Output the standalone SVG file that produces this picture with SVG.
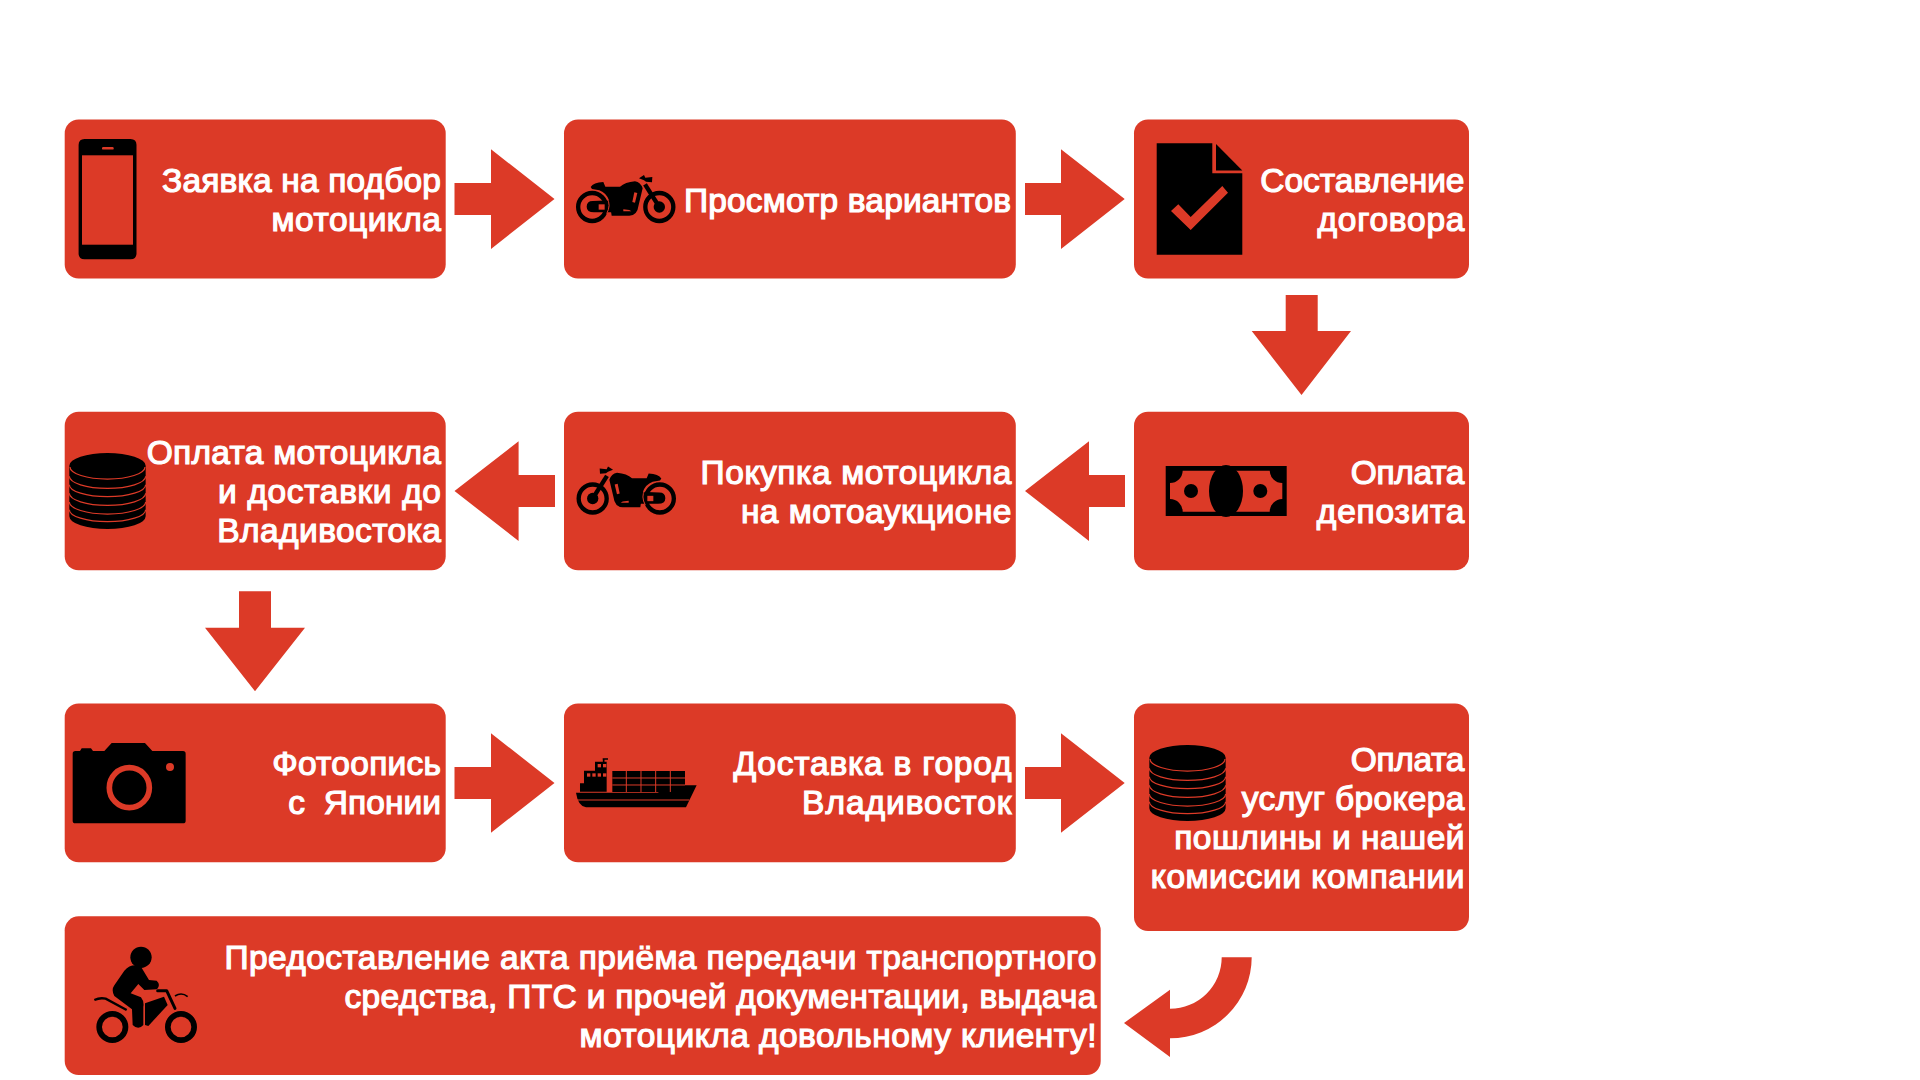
<svg xmlns="http://www.w3.org/2000/svg" width="1920" height="1080" viewBox="0 0 1920 1080">
<style>
.box{fill:#dc3a27}
.arrow{fill:#dc3a27}
.t{font-family:"Liberation Sans",Arial,sans-serif;font-size:33.5px;fill:#fff;stroke:#fff;stroke-width:1.2px;text-anchor:end}
.k{fill:#000}
.r{fill:#dc3a27}
.rl{fill:none;stroke:#dc3a27}
.kl{fill:none;stroke:#000}
</style>
<defs>
<g id="moto">
<g transform="translate(570 165) scale(.3333)">
<circle class="kl" cx="66.5" cy="126" r="42" stroke-width="13"/>
<circle class="kl" cx="268" cy="126" r="42" stroke-width="13"/>
<circle class="k" cx="268" cy="126" r="17"/>
<path class="kl" d="M225 58L268 126" stroke-width="13"/>
<path class="k" d="M207 40L222 30L226 38L247 36L246 52L228 50L222 46Z"/>
<path class="k" d="M62 66Q70 52 100 51L106 65L150 65Q165 52 195 49Q212 52 218 70L206 120Q202 152 178 152L125 152Q122 130 118 108Q110 84 88 76L66 72Z"/>
<path class="k" d="M50 125Q50 108 68 108L125 106L128 142L72 142Q50 142 50 125Z"/>
<rect class="r" x="86" y="118" width="18" height="16"/>
<path class="rl" d="M111 100Q124 120 110 146" stroke-width="3"/>
<path class="r" d="M193 82L202 84L195 113L187 111Z"/>
<path class="r" d="M160 133L178 135L184 139L160 139Z"/>
</g>
</g>
<g id="coins">
<g transform="translate(60 445) scale(.3333)">
<path class="k" d="M28 62A114 38 0 0 1 257 62L257 214A114 38 0 0 1 28 214Z"/>
<g class="rl" stroke-width="3.6">
<path d="M30 66A112 36 0 0 0 255 66"/>
<path d="M28 94A114 36 0 0 0 257 94"/>
<path d="M28 119A114 36 0 0 0 257 119"/>
<path d="M28 145A114 36 0 0 0 257 145"/>
<path d="M28 171A114 36 0 0 0 257 171"/>
<path d="M28 194A114 36 0 0 0 257 194"/>
</g>
</g>
</g>
</defs>

<g id="connectors">
<path class="arrow" d="M454.5 183H491V149.3L554.5 199L491 249V215H454.5Z"/>
<path class="arrow" d="M1025 183H1061V149.3L1124.7 199L1061 249V215H1025Z"/>
<path class="arrow" d="M1285.7 295H1317.7V331H1351L1301.5 395L1251.7 331H1285.7Z"/>
<path class="arrow" d="M1125 475H1089V441.3L1025 491L1089 541V507H1125Z"/>
<path class="arrow" d="M555 475H518.6V441.3L454.5 491L518.6 541V507H555Z"/>
<path class="arrow" d="M239 591.3H271V627.7H305L255 691.3L205 627.7H239Z"/>
<path class="arrow" d="M454.5 767H491V733.3L554.5 783L491 832.7V799H454.5Z"/>
<path class="arrow" d="M1025 767H1061V733.3L1124.7 783L1061 832.7V799H1025Z"/>
<path class="arrow" d="M1221.7 957.3H1251.7A81.7 81 0 0 1 1170 1038.3V1057L1124 1023L1170 989.7V1008.7A51.7 51.4 0 0 0 1221.7 957.3Z"/>
</g>

<g id="node-request">
<rect class="box" x="64.7" y="119.5" width="381" height="159" rx="14"/>
<path class="k" d="M84.5 139H130.5Q136.5 139 136.5 145V253.3Q136.5 259.3 130.5 259.3H84.5Q78.6 259.3 78.6 253.3V145Q78.6 139 84.5 139Z"/>
<rect class="r" x="82" y="155.3" width="51" height="89.4"/>
<rect class="r" x="102" y="147" width="11.7" height="2.6" rx="1.2"/>
<text class="t" x="441" y="192" textLength="279">Заявка на подбор</text>
<text class="t" x="441" y="231" textLength="169.4">мотоцикла</text>
</g>

<g id="node-view">
<rect class="box" x="564" y="119.5" width="451.8" height="159" rx="14"/>
<use href="#moto"/>
<text class="t" x="1011" y="212" textLength="327">Просмотр вариантов</text>
</g>

<g id="node-contract">
<rect class="box" x="1134" y="119.5" width="335" height="159" rx="14"/>
<path class="k" d="M1156.7 143.3H1212.3V173.3H1242.3V254.7H1156.7Z"/>
<path class="k" d="M1216 144L1242.3 170.5H1216Z"/>
<path class="r" d="M1178.3 204.3L1171 211L1190.7 230L1228 192.7L1222.3 186L1190.7 217Z"/>
<text class="t" x="1464.5" y="192" textLength="204.3">Составление</text>
<text class="t" x="1464.5" y="231" textLength="147">договора</text>
</g>

<g id="node-deposit">
<rect class="box" x="1134" y="411.7" width="335" height="158.6" rx="14"/>
<rect class="k" x="1165.7" y="466" width="121" height="50"/>
<path class="r" d="M1182.7 470.7H1269.7A12.7 12.7 0 0 0 1282.3 483V499A12.7 12.7 0 0 0 1269.7 511.7H1182.7A12.7 12.7 0 0 0 1170 499V483A12.7 12.7 0 0 0 1182.7 470.7Z"/>
<ellipse class="k" cx="1226" cy="491" rx="17" ry="26"/>
<circle class="k" cx="1191" cy="491" r="7"/>
<circle class="k" cx="1260.3" cy="491" r="7"/>
<text class="t" x="1464.5" y="484" textLength="113.7">Оплата</text>
<text class="t" x="1464.5" y="523" textLength="147.7">депозита</text>
</g>

<g id="node-purchase">
<rect class="box" x="564" y="411.7" width="451.8" height="158.6" rx="14"/>
<use href="#moto" transform="matrix(-1 0 0 1 1252 291.5)"/>
<text class="t" x="1011.5" y="484" textLength="311">Покупка мотоцикла</text>
<text class="t" x="1011.5" y="523" textLength="270.6">на мотоаукционе</text>
</g>

<g id="node-payment">
<rect class="box" x="64.7" y="411.7" width="381" height="158.6" rx="14"/>
<use href="#coins"/>
<text class="t" x="441" y="464" textLength="294.3">Оплата мотоцикла</text>
<text class="t" x="441" y="503" textLength="222.9">и доставки до</text>
<text class="t" x="441" y="542" textLength="223.7">Владивостока</text>
</g>

<g id="node-photo">
<rect class="box" x="64.7" y="703.5" width="381" height="158.8" rx="14"/>
<g transform="translate(65 735) scale(.3333)">
<path class="k" d="M31 48H45L50 40H78L84 48H118L140 24H240L262 48H354Q362 48 362 56V257Q362 265 354 265H31Q23 265 23 257V56Q23 48 31 48Z"/>
<circle class="rl" cx="193" cy="158" r="60" stroke-width="17"/>
<circle class="r" cx="315" cy="96" r="12"/>
</g>
<text class="t" x="441" y="775" textLength="168.8">Фотоопись</text>
<text class="t" x="441" y="814" textLength="152.7" xml:space="preserve">с  Японии</text>
</g>

<g id="node-shipping">
<rect class="box" x="564" y="703.5" width="451.8" height="158.8" rx="14"/>
<g transform="translate(570 750) scale(.3333)">
<path class="k" d="M18 128H262Q278 126 282 106H380L348 172H48Q24 168 18 128Z"/>
<path class="rl" d="M20 150H358" stroke-width="3.5"/>
<path class="rl" d="M262 125Q276 124 279 108" stroke-width="3"/>
<path class="k" d="M42 62H75V35H110V125H30V100H42Z"/>
<path class="kl" d="M101 36V27M98 27H114" stroke-width="5"/>
<g class="r">
<rect x="51" y="70" width="10" height="10"/><rect x="67" y="70" width="10" height="10"/><rect x="83" y="70" width="10" height="10"/><rect x="99" y="70" width="10" height="10"/>
<rect x="83" y="42" width="10" height="10"/><rect x="99" y="42" width="10" height="10"/>
</g>
<rect class="k" x="127" y="63" width="218" height="63"/>
<path class="rl" d="M169 63V126M213 63V126M257 63V126M301 63V126M127 84H345M127 105H345" stroke-width="3"/>
</g>
<text class="t" x="1011.5" y="775" textLength="278">Доставка в город</text>
<text class="t" x="1011.5" y="814" textLength="209.4">Владивосток</text>
</g>

<g id="node-broker">
<rect class="box" x="1134" y="703.5" width="335" height="227.5" rx="14"/>
<use href="#coins" transform="translate(1080 292)"/>
<text class="t" x="1464.5" y="771" textLength="113.7">Оплата</text>
<text class="t" x="1464.5" y="810" textLength="222.7">услуг брокера</text>
<text class="t" x="1464.5" y="849" textLength="290.3">пошлины и нашей</text>
<text class="t" x="1464.5" y="888" textLength="313.7">комиссии компании</text>
</g>

<g id="node-delivery">
<rect class="box" x="64.7" y="916.3" width="1036" height="158.7" rx="14"/>
<g transform="translate(85 940) scale(.3333)">
<circle class="k" cx="168" cy="52" r="32"/>
<path class="k" d="M118 92Q140 68 168 80L192 120L215 122Q228 134 216 148L178 150L160 132L137 160L168 172Q178 185 175 200V255Q160 272 143 255L141 208L88 168Q78 150 88 136Z"/>
<path class="k" d="M180 190L237 170L248 195L190 258L180 255Z"/>
<path class="kl" d="M218 152H245L270 205" stroke-width="9" stroke-linecap="round" stroke-linejoin="round"/>
<path class="kl" d="M270 168Q290 155 308 170" stroke-width="5"/>
<path class="kl" d="M28 180Q45 172 62 176L125 210" stroke-width="7"/>
<circle class="kl" cx="82" cy="261" r="39.5" stroke-width="17"/>
<circle class="kl" cx="288" cy="261" r="39.5" stroke-width="17"/>
</g>
<text class="t" x="1096.5" y="969" textLength="872">Предоставление акта приёма передачи транспортного</text>
<text class="t" x="1096.5" y="1008" textLength="752">средства, ПТС и прочей документации, выдача</text>
<text class="t" x="1096.5" y="1047" textLength="517">мотоцикла довольному клиенту!</text>
</g>
</svg>
